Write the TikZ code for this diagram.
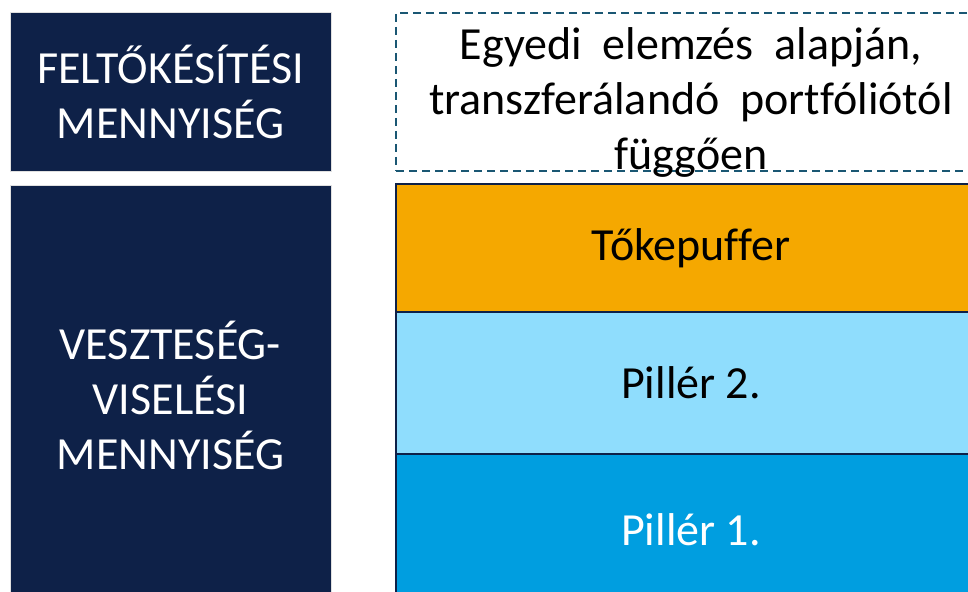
\documentclass[tikz,border=0pt]{standalone}
\usepackage{fontspec}
\setmainfont{Carlito}[Ligatures={NoCommon}]
\usepackage{tikz}
\usetikzlibrary{positioning}
\usepackage{xcolor}
\definecolor{navy}{HTML}{0E2148}
\definecolor{tokeorange}{HTML}{F5A800}
\definecolor{pillerlight}{HTML}{8FDDFD}
\definecolor{pillerblue}{HTML}{009EE0}
\definecolor{dashteal}{HTML}{1A5773}
\tikzstyle{category} = [rectangle, minimum width=321pt, text centered, align=center, draw=black!12, line width=1pt, fill=navy, text=white, outer sep=0pt, inner sep=0pt]
\tikzstyle{layer} = [rectangle, minimum width=590pt, text centered, align=center, draw=navy, line width=1.5pt, outer sep=0pt, inner sep=0pt]
\tikzstyle{pending} = [rectangle, minimum width=590pt, minimum height=158pt, text centered, draw=dashteal, dash pattern=on 8pt off 5pt, line width=1.6pt, outer sep=0pt, inner sep=0pt]

\begin{document}
\begin{tikzpicture}[font=\fontsize{46pt}{55pt}\selectfont]
\useasboundingbox (0pt,0pt) rectangle (968pt,-591pt);

% Left column
\node (feltoke) [category, minimum height=158pt] at (170.5pt,-92pt) {FELTŐKÉSÍTÉSI\\MENNYISÉG};
\node (veszteseg) [category, minimum height=420pt, below=14pt of feltoke] {VESZTESÉG-\\VISELÉSI\\MENNYISÉG};

% Right column
\node (egyedi) [pending] at (691pt,-92pt) {\raisebox{-18pt}[0pt][0pt]{\begin{tabular}{@{}c@{}}Egyedi\ \ elemzés\ \ alapján,\\transzferálandó\ \ portfóliótól\\függően\end{tabular}}};
\node (puffer) [layer, fill=tokeorange, minimum height=128pt, below=13pt of egyedi] {Tőkepuffer};
\node (piller2) [layer, fill=pillerlight, minimum height=142pt, below=0pt of puffer] {Pillér 2.};
\node (piller1) [layer, fill=pillerblue, text=white, minimum height=152pt, below=0pt of piller2] {Pillér 1.};

\end{tikzpicture}
\end{document}
